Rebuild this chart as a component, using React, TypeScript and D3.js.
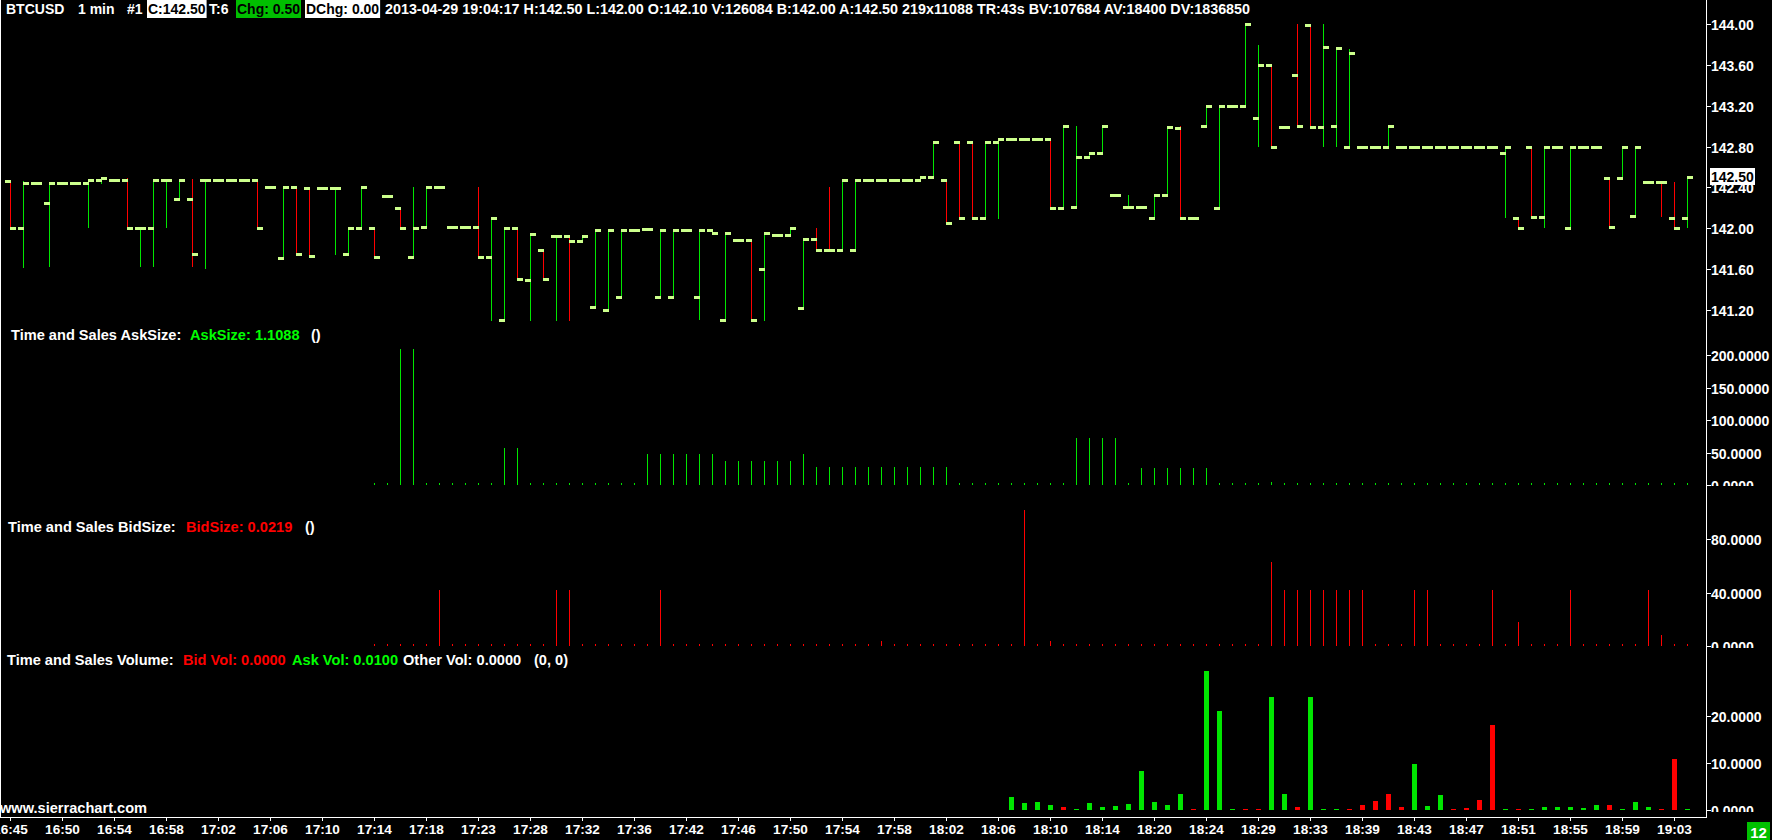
import React, { useEffect, useRef } from "react";
import * as d3 from "d3";

// ---------- DATA ----------
const timeLabels = ["16:45","16:50","16:54","16:58","17:02","17:06","17:10","17:14","17:18","17:23","17:28","17:32","17:36","17:42","17:46","17:50","17:54","17:58","18:02","18:06","18:10","18:14","18:20","18:24","18:29","18:33","18:39","18:43","18:47","18:51","18:55","18:59","19:03"];
const timeLabelStep = 4; // one time label every 4 bars

const priceTicks = [141.2, 141.6, 142.0, 142.4, 142.8, 143.2, 143.6, 144.0];
const askTicks = [0, 50, 100, 150, 200];
const bidTicks = [0, 40, 80];
const volTicks = [0, 10, 20];
const lastPrice = 142.5;

const open = [
142.46,142.00,142.44,142.25,142.44,142.44,142.44,142.47,142.47,142.47,
142.00,142.00,142.47,142.29,142.29,142.47,142.47,142.47,142.47,142.47,
142.40,141.71,142.40,142.39,142.39,142.39,141.75,142.00,142.00,142.32,
142.20,141.72,142.01,142.40,142.01,142.01,142.01,141.72,141.10,142.00,
141.49,141.79,141.92,141.92,141.88,141.23,141.20,141.33,141.98,141.99,
141.33,141.33,141.98,141.33,141.98,141.10,141.89,141.89,141.60,141.93,
141.93,141.22,141.90,141.79,141.79,141.79,142.47,142.47,142.47,142.47,
142.47,142.50,142.47,142.85,142.85,142.10,142.85,142.87,142.87,142.87,
142.87,142.20,142.21,142.70,142.74,142.33,142.21,142.21,142.10,142.33,
142.98,142.10,143.00,142.20,143.20,143.20,143.08,143.60,142.99,143.50,
143.99,142.99,143.00,142.80,142.80,142.80,142.80,142.80,142.80,142.80,
142.80,142.80,142.80,142.80,142.80,142.74,142.10,142.80,142.11,142.80,
142.00,142.80,142.80,142.49,142.49,142.12,142.45,142.45,142.10,142.10];

const high = [
142.46,142.46,142.44,142.44,142.44,142.44,142.47,142.49,142.47,142.49,
142.00,142.47,142.47,142.47,142.48,142.47,142.47,142.47,142.47,142.47,
142.40,142.40,142.40,142.39,142.39,142.39,142.00,142.40,142.00,142.32,
142.20,142.40,142.40,142.40,142.01,142.01,142.40,142.10,142.00,142.00,
141.94,141.79,141.92,141.92,141.92,141.98,141.98,141.98,141.98,141.99,
141.98,141.98,141.98,141.98,141.98,141.95,141.89,141.89,141.95,141.93,
142.00,141.90,142.00,142.40,142.47,142.47,142.47,142.47,142.47,142.47,
142.50,142.85,142.47,142.85,142.85,142.85,142.87,142.87,142.87,142.87,
142.87,143.00,143.00,142.74,143.00,142.33,142.33,142.21,142.33,143.00,
143.00,142.10,143.20,143.20,143.20,144.00,143.80,143.60,142.99,144.00,
143.99,144.00,143.77,143.76,142.80,142.80,143.00,142.80,142.80,142.80,
142.80,142.80,142.80,142.80,142.80,142.80,142.10,142.80,142.80,142.80,
142.80,142.80,142.80,142.49,142.80,142.80,142.45,142.45,142.45,142.50];

const low = [
142.00,141.62,142.44,141.63,142.44,142.44,142.01,142.44,142.47,142.00,
141.63,141.63,142.01,142.29,141.63,141.61,142.47,142.47,142.47,142.00,
142.40,141.71,141.75,141.73,142.39,141.75,141.75,142.00,141.72,142.32,
142.00,141.72,142.01,142.40,142.01,142.01,141.72,141.10,141.10,141.50,
141.10,141.50,141.10,141.10,141.88,141.23,141.20,141.33,141.98,141.99,
141.33,141.33,141.98,141.11,141.95,141.10,141.89,141.10,141.10,141.93,
141.93,141.22,141.79,141.79,141.79,141.79,142.47,142.47,142.47,142.47,
142.47,142.50,142.05,142.10,142.10,142.10,142.10,142.87,142.87,142.87,
142.20,142.20,142.21,142.70,142.74,142.33,142.21,142.21,142.10,142.33,
142.10,142.10,143.00,142.20,143.20,143.20,142.81,142.80,142.99,143.00,
142.99,142.81,142.81,142.80,142.80,142.80,142.80,142.80,142.80,142.80,
142.80,142.80,142.80,142.80,142.80,142.11,142.00,142.11,142.01,142.80,
142.00,142.80,142.80,142.01,142.49,142.12,142.45,142.12,142.00,142.01];

const close = [
142.00,142.44,142.44,142.44,142.44,142.44,142.47,142.49,142.47,142.00,
142.00,142.47,142.47,142.47,141.75,142.47,142.47,142.47,142.47,142.00,
142.40,142.40,141.75,141.73,142.39,142.39,142.00,142.40,141.72,142.32,
142.00,142.00,142.40,142.40,142.01,142.01,141.72,142.10,142.00,141.50,
141.94,141.50,141.92,141.88,141.92,141.98,141.98,141.98,141.98,141.99,
141.98,141.98,141.98,141.98,141.95,141.95,141.89,141.10,141.95,141.93,
142.00,141.90,141.79,141.79,142.47,142.47,142.47,142.47,142.47,142.47,
142.50,142.85,142.05,142.10,142.10,142.85,142.87,142.87,142.87,142.87,
142.20,143.00,142.70,142.74,143.00,142.33,142.21,142.21,142.33,142.99,
142.10,142.10,143.20,143.20,143.20,144.00,143.60,142.80,142.99,143.00,
142.99,143.78,143.77,143.72,142.80,142.80,143.00,142.80,142.80,142.80,
142.80,142.80,142.80,142.80,142.80,142.80,142.00,142.11,142.80,142.80,
142.80,142.80,142.80,142.01,142.80,142.80,142.45,142.45,142.00,142.50];

// bars with open == close that were drawn as down bars
const flatDownBars = [63, 127];

const askSize: (number | null)[] = [
null,null,null,null,null,null,null,null,null,null,
null,null,null,null,null,null,null,null,null,null,
null,null,null,null,null,null,null,null,3,3,
210,210,3,3,3,3,3,3,57,57,
3,3,3,3,3,3,3,3,3,48,
48,48,48,48,48,37,37,37,37,37,
37,48,27,27,27,27,27,27,27,27,
27,27,27,3,3,3,3,3,3,3,
3,3,72,72,72,72,3,26,26,26,
26,26,26,3,3,3,3,5,3,3,
3,3,3,3,3,3,3,3,3,3,
3,3,3,3,3,3,3,3,3,3,
3,3,3,3,3,3,3,3,3,3];

const bidSize: (number | null)[] = [
null,null,null,null,null,null,null,null,null,null,
null,null,null,null,null,null,null,null,null,null,
null,null,null,null,null,null,null,null,1.5,1.5,
1.5,1.5,1.5,42,1.5,1.5,1.5,1.5,1.5,1.5,
1.5,1.5,42,42,1.5,1.5,1.5,1.5,1.5,1.5,
42,1.5,1.5,1.5,1.5,1.5,1.5,1.5,1.5,1.5,
1.5,1.5,1.5,1.5,1.5,1.5,1.5,4,1.5,1.5,
1.5,1.5,1.5,1.5,1.5,1.5,1.5,1.5,102,1.5,
4,1.5,1.5,1.5,1.5,1.5,1.5,1.5,1.5,1.5,
1.5,1.5,1.5,1.5,1.5,1.5,1.5,63,42,42,
42,42,42,42,42,1.5,1.5,1.5,42,42,
1.5,1.5,1.5,1.5,42,1.5,18,1.5,1.5,1.5,
42,1.5,1.5,1.5,1.5,1.5,42,8,1.5,1.5];

const bidVol = [
0,0,0,0,0,0,0,0,0,0, 0,0,0,0,0,0,0,0,0,0,
0,0,0,0,0,0,0,0,0,0, 0,0,0,0,0,0,0,0,0,0,
0,0,0,0,0,0,0,0,0,0, 0,0,0,0,0,0,0,0,0,0,
0,0,0,0,0,0,0,0,0,0, 0,0,0,0,0,0,0,0,0,0,
0,0.7,0,0,0,0,0,0,0,0,
0,0.2,0,0,0,0.2,0.2,0,0,0.6,
0,0,0,0.2,1.0,2.0,3.5,0.7,0,0,
0,0.2,0.5,2.2,18,0,0.2,0,0,0,
0,0,0,1.0,0,0,0,0.2,10.8,0];

const askVol = [
0,0,0,0,0,0,0,0,0,0, 0,0,0,0,0,0,0,0,0,0,
0,0,0,0,0,0,0,0,0,0, 0,0,0,0,0,0,0,0,0,0,
0,0,0,0,0,0,0,0,0,0, 0,0,0,0,0,0,0,0,0,0,
0,0,0,0,0,0,0,0,0,0, 0,0,0,0,0,0,0,2.7,1.4,1.6,
1.0,0,0.2,1.4,0.6,0.8,1.2,8.2,1.6,1.0,
3.4,0,29.5,21,0.2,0,0,24,3.3,0,
24,0.2,0.2,0,0,0,0,0,9.8,0.9,
3.2,0,0,0,0,0.2,0,0.2,0.7,0.6,
0.6,0.5,1.0,0,0.2,1.7,0.6,0,0,0.2];

const headerSegments = [
  { text: "BTCUSD", box: "", x: 6 },
  { text: "1 min", box: "", x: 78 },
  { text: "#1", box: "", x: 127 },
  { text: "C:142.50", box: "#ffffff", x: 148 },
  { text: "T:6", box: "", x: 209 },
  { text: "Chg: 0.50", box: "#00bf00", x: 237 },
  { text: "DChg: 0.00", box: "#ffffff", x: 306 },
  { text: "2013-04-29 19:04:17 H:142.50 L:142.00 O:142.10 V:126084 B:142.00 A:142.50 219x11088 TR:43s BV:107684 AV:18400 DV:1836850", box: "", x: 385 },
];

const askLabel = [
  { text: "Time and Sales AskSize:", color: "#ffffff", x: 11 },
  { text: "AskSize: 1.1088", color: "#00ff00", x: 190 },
  { text: "()", color: "#ffffff", x: 311 },
];
const bidLabel = [
  { text: "Time and Sales BidSize:", color: "#ffffff", x: 8 },
  { text: "BidSize: 0.0219", color: "#ff0000", x: 186 },
  { text: "()", color: "#ffffff", x: 305 },
];
const volLabel = [
  { text: "Time and Sales Volume:", color: "#ffffff", x: 7 },
  { text: "Bid Vol: 0.0000", color: "#ff0000", x: 183 },
  { text: "Ask Vol: 0.0100", color: "#00ff00", x: 292 },
  { text: "Other Vol: 0.0000", color: "#ffffff", x: 403 },
  { text: "(0, 0)", color: "#ffffff", x: 534 },
];

// ---------- STYLE ----------
const FONT = "'Liberation Sans', Arial, Helvetica, sans-serif";
const GREEN = "#00e600";
const RED = "#ff0000";
const TICK = "#ccff8c";

export default function App() {
  const ref = useRef<SVGSVGElement>(null);

  useEffect(() => {
    const svg = d3.select(ref.current as SVGSVGElement);
    svg.selectAll("*").remove();
    const n = open.length;
    const idx = d3.range(n);

    const x = d3.scaleLinear().domain([0, n - 1]).range([10, 10 + 13 * (n - 1)]);
    const yP = d3.scaleLinear().domain([141.2, 144]).range([310, 24.1]);
    const yA = d3.scaleLinear().domain([0, 200]).range([485, 355]);
    const yB = d3.scaleLinear().domain([0, 80]).range([646, 539]);
    const yV = d3.scaleLinear().domain([0, 20]).range([810, 716]);

    const axisX = 1706;
    const bottomY = 817;

    svg.append("rect").attr("width", 1772).attr("height", 840).attr("fill", "#000");

    const defs = svg.append("defs");
    const clips: [string, number, number][] = [["clipA", 340, 486], ["clipB", 490, 648], ["clipV", 660, 812]];
    clips.forEach(([id, y0, y1]) => {
      defs.append("clipPath").attr("id", id).append("rect").attr("x", 0).attr("y", y0).attr("width", 1772).attr("height", y1 - y0);
    });

    const isUp = (i: number) =>
      close[i] > open[i] ? true : close[i] < open[i] ? false : !flatDownBars.includes(i);

    // ---- price bars ----
    const gP = svg.append("g");
    gP.selectAll("rect.hl").data(idx).join("rect")
      .attr("class", "hl")
      .attr("x", (i) => x(i)).attr("width", 1)
      .attr("y", (i) => Math.round(yP(high[i])))
      .attr("height", (i) => Math.max(1, Math.round(yP(low[i])) - Math.round(yP(high[i])) + 1))
      .attr("fill", (i) => (isUp(i) ? GREEN : RED));
    gP.selectAll("rect.op").data(idx).join("rect")
      .attr("class", "op")
      .attr("x", (i) => x(i) - 5).attr("width", 6)
      .attr("y", (i) => Math.round(yP(open[i])) - 1).attr("height", 3)
      .attr("fill", TICK);
    gP.selectAll("rect.cl").data(idx).join("rect")
      .attr("class", "cl")
      .attr("x", (i) => x(i)).attr("width", 6)
      .attr("y", (i) => Math.round(yP(close[i])) - 1).attr("height", 3)
      .attr("fill", TICK);

    // ---- ask size ----
    const askIdx = idx.filter((i) => askSize[i] !== null);
    svg.append("g").selectAll("rect").data(askIdx).join("rect")
      .attr("x", (i) => x(i)).attr("width", 1)
      .attr("y", (i) => Math.round(yA(askSize[i] as number)))
      .attr("height", (i) => Math.max(1, Math.round(yA(0)) - Math.round(yA(askSize[i] as number))))
      .attr("fill", GREEN);

    // ---- bid size ----
    const bidIdx = idx.filter((i) => bidSize[i] !== null);
    svg.append("g").selectAll("rect").data(bidIdx).join("rect")
      .attr("x", (i) => x(i)).attr("width", 1)
      .attr("y", (i) => Math.round(yB(bidSize[i] as number)))
      .attr("height", (i) => Math.max(1, Math.round(yB(0)) - Math.round(yB(bidSize[i] as number))))
      .attr("fill", RED);

    // ---- volume ----
    const volIdx = idx.filter((i) => bidVol[i] > 0 || askVol[i] > 0);
    svg.append("g").selectAll("rect").data(volIdx).join("rect")
      .attr("x", (i) => x(i) - 2).attr("width", 5)
      .attr("y", (i) => Math.round(yV(Math.max(bidVol[i], askVol[i]))))
      .attr("height", (i) => Math.max(1, Math.round(yV(0)) - Math.round(yV(Math.max(bidVol[i], askVol[i])))))
      .attr("fill", (i) => (askVol[i] >= bidVol[i] ? GREEN : RED));

    // ---- axes lines ----
    svg.append("rect").attr("x", 0).attr("y", 0).attr("width", 1).attr("height", bottomY + 1).attr("fill", "#fff");
    svg.append("rect").attr("x", axisX).attr("y", 0).attr("width", 1).attr("height", bottomY + 1).attr("fill", "#fff");
    svg.append("rect").attr("x", 0).attr("y", bottomY).attr("width", axisX + 1).attr("height", 1).attr("fill", "#fff");

    const txt = (sel: any, size = 14) =>
      sel.attr("font-family", FONT).attr("font-weight", "bold").attr("font-size", size).attr("fill", "#fff");

    const drawAxis = (ticks: number[], scale: (v: number) => number, fmt: (v: number) => string, clip: string | null) => {
      const g = svg.append("g");
      if (clip) g.attr("clip-path", `url(#${clip})`);
      ticks.forEach((t) => {
        const yy = Math.round(scale(t));
        g.append("rect").attr("x", axisX + 1).attr("y", yy).attr("width", 4).attr("height", 1).attr("fill", "#fff");
        txt(g.append("text")).attr("x", axisX + 5).attr("y", yy + 1).attr("dominant-baseline", "central").text(fmt(t));
      });
    };
    drawAxis(priceTicks, yP, (v) => v.toFixed(2), null);
    drawAxis(askTicks, yA, (v) => v.toFixed(4), "clipA");
    drawAxis(bidTicks, yB, (v) => v.toFixed(4), "clipB");
    drawAxis(volTicks, yV, (v) => v.toFixed(4), "clipV");

    // current price box
    const yl = Math.round(yP(lastPrice));
    svg.append("rect").attr("x", axisX + 4).attr("y", yl - 9).attr("width", 45).attr("height", 17).attr("fill", "#fff");
    txt(svg.append("text")).attr("fill", "#000").attr("x", axisX + 5).attr("y", yl).attr("dominant-baseline", "central").text(lastPrice.toFixed(2));

    // ---- time axis ----
    const gT = svg.append("g");
    timeLabels.forEach((lab, k) => {
      const xx = x(k * timeLabelStep);
      gT.append("rect").attr("x", xx).attr("y", bottomY + 1).attr("width", 1).attr("height", 3).attr("fill", "#fff");
      txt(gT.append("text"), 13.6).attr("x", xx + 0.5).attr("y", 829).attr("text-anchor", "middle").attr("dominant-baseline", "central").text(lab);
    });

    // "12" box
    svg.append("rect").attr("x", 1747).attr("y", 822).attr("width", 23).attr("height", 18).attr("fill", "#00c000");
    txt(svg.append("text"), 15).attr("x", 1758.5).attr("y", 832).attr("text-anchor", "middle").attr("dominant-baseline", "central").text("12");

    // www
    txt(svg.append("text"), 14.6).attr("x", 0).attr("y", 808).attr("dominant-baseline", "central").text("www.sierrachart.com");

    // ---- panel labels ----
    const drawLabel = (segs: { text: string; color: string; x: number }[], yy: number) => {
      segs.forEach((s) => {
        txt(svg.append("text"), 14.6).attr("x", s.x).attr("y", yy).attr("dominant-baseline", "central").attr("fill", s.color).text(s.text);
      });
    };
    drawLabel(askLabel, 335);
    drawLabel(bidLabel, 527);
    drawLabel(volLabel, 660);

    // ---- header ----
    const gH = svg.append("g");
    const hy = 9;
    headerSegments.forEach((s, k) => {
      const t = txt(gH.append("text"))
        .attr("x", s.x).attr("y", hy).attr("dominant-baseline", "central")
        .attr("fill", s.box ? "#000" : "#fff")
        .text(s.text);
      if (k === headerSegments.length - 1) {
        t.attr("textLength", 865).attr("lengthAdjust", "spacingAndGlyphs");
      }
      const w = (t.node() as SVGTextElement).getComputedTextLength();
      if (s.box) {
        gH.insert("rect", "text").attr("x", s.x - 1).attr("y", 0).attr("width", w + 2).attr("height", 18).attr("fill", s.box);
      }
    });
  }, []);

  return (
    <svg
      ref={ref}
      width={1772}
      height={840}
      style={{ position: "fixed", left: 0, top: 0, background: "#000", display: "block" }}
    />
  );
}
